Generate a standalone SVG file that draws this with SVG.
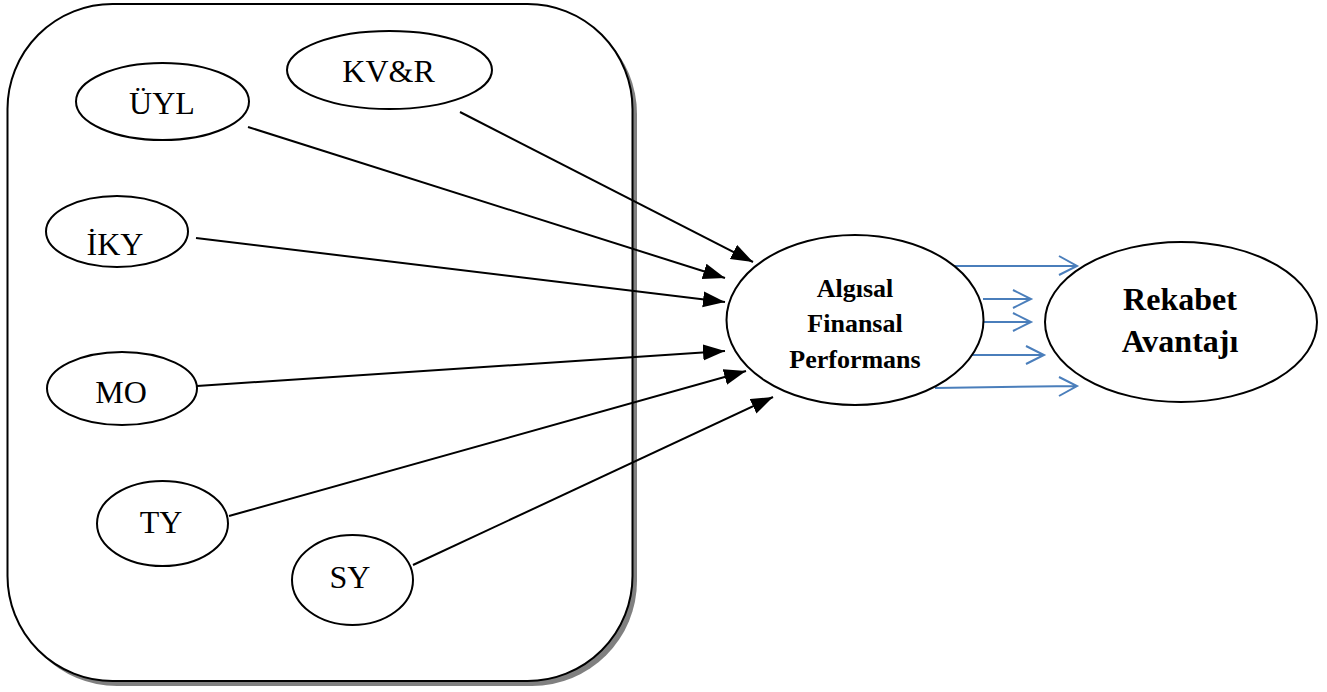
<svg xmlns="http://www.w3.org/2000/svg" width="1327" height="692" viewBox="0 0 1327 692">
<style>
.n{fill:#fff;stroke:#000;stroke-width:2}
.t{font-family:"Liberation Serif","Times New Roman",serif;font-size:32px;fill:#000;text-anchor:middle}
.b{font-weight:bold}
.s{font-size:26px}
.c{stroke:#000;stroke-width:2;fill:none;marker-end:url(#ah)}
.bl{stroke:#4a7ebb;stroke-width:2;fill:none}
</style>
<defs>
<marker id="ah" markerUnits="userSpaceOnUse" markerWidth="24" markerHeight="18" refX="22" refY="8" orient="auto">
<path d="M0,0 L22,8 L0,16 Z" fill="#000"/>
</marker>
</defs>
<g id="frame">
<rect x="12" y="9" width="625" height="677" rx="105" ry="105" fill="#808080"/>
<rect x="7.5" y="4" width="625" height="677" rx="105" ry="105" fill="#fff" stroke="#000" stroke-width="2"/>
</g>
<g id="connectors">
<line class="c" x1="460" y1="112" x2="753" y2="262"/>
<line class="c" x1="248" y1="127" x2="725" y2="278"/>
<line class="c" x1="196" y1="238" x2="725" y2="302"/>
<line class="c" x1="197" y1="386" x2="725" y2="351"/>
<line class="c" x1="229" y1="516" x2="746" y2="371"/>
<line class="c" x1="413" y1="565" x2="773" y2="397"/>
<path class="bl" d="M952,266 L1077,266 M1059,256 L1077,266 L1059,275"/>
<path class="bl" d="M983,299 L1031,299 M1013,290 L1031,299 L1013,308"/>
<path class="bl" d="M983,322 L1031,322 M1013,313 L1031,322 L1013,331"/>
<path class="bl" d="M971,355 L1044,355 M1026,346 L1044,355 L1026,364"/>
<path class="bl" d="M935,388 L1077,386 M1059,377 L1077,386 L1059,396"/>
</g>
<g id="KVR">
<ellipse class="n" cx="389.5" cy="70" rx="102.5" ry="39"/>
<text class="t" x="388.5" y="82">KV&amp;R</text>
</g>
<g id="UYL">
<ellipse class="n" cx="162.5" cy="101.5" rx="86.5" ry="38.5"/>
<text class="t" x="162" y="114">ÜYL</text>
</g>
<g id="IKY">
<ellipse class="n" cx="117" cy="231.5" rx="71" ry="35.5"/>
<text class="t" x="115" y="255">İKY</text>
</g>
<g id="MO">
<ellipse class="n" cx="122" cy="388.5" rx="75" ry="36.5"/>
<text class="t" x="121" y="403">MO</text>
</g>
<g id="TY">
<ellipse class="n" cx="162.5" cy="523.5" rx="65.5" ry="42.5"/>
<text class="t" x="161" y="533">TY</text>
</g>
<g id="SY">
<ellipse class="n" cx="352.5" cy="580" rx="60.5" ry="45"/>
<text class="t" x="350" y="588">SY</text>
</g>
<g id="AFP">
<ellipse class="n" cx="855" cy="320" rx="128.5" ry="85"/>
<text class="t b s" x="855" y="297">Algısal</text>
<text class="t b s" x="855" y="332">Finansal</text>
<text class="t b s" x="855" y="368">Performans</text>
</g>
<g id="RA">
<ellipse class="n" cx="1181" cy="322" rx="136" ry="80"/>
<text class="t b" x="1180" y="310">Rekabet</text>
<text class="t b" x="1180" y="352">Avantajı</text>
</g>
</svg>
